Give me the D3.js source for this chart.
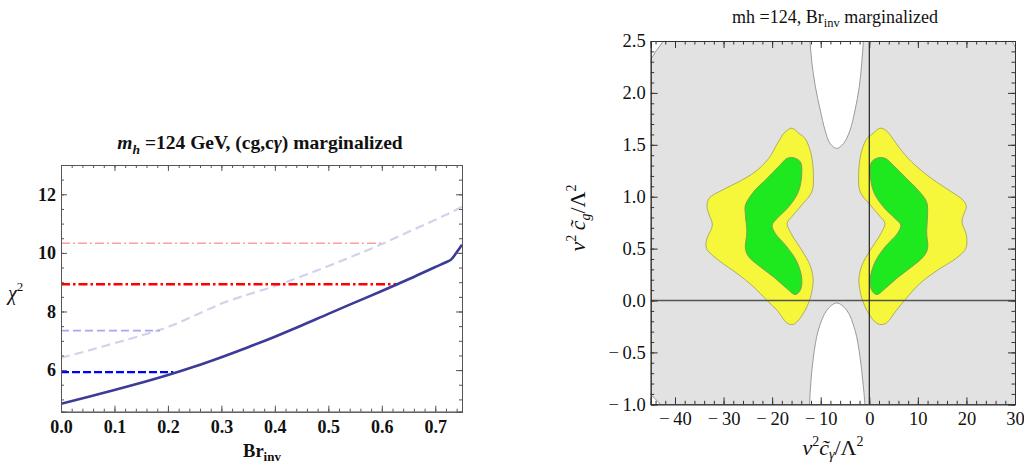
<!DOCTYPE html>
<html><head><meta charset="utf-8">
<script src="https://cdn.jsdelivr.net/npm/d3@7"></script>
<style>
html,body{margin:0;padding:0;background:#fff;}
svg{display:block;font-family:"Liberation Serif","Times New Roman",serif;}
</style></head>
<body><svg id="c" width="1024" height="465"></svg>
<script>
// ---------- LEFT PANEL DATA ----------
const brInv = [0,0.05,0.1,0.15,0.2,0.25,0.3,0.35,0.4,0.45,0.5,0.55,0.6,0.65,0.7,0.72,0.73,0.74,0.75];
const chi2Solid = [4.85,5.08,5.32,5.57,5.83,6.12,6.44,6.78,7.14,7.52,7.92,8.31,8.7,9.1,9.52,9.68,9.78,10.02,10.28];
const chi2Dashed = [6.42,6.66,6.92,7.18,7.47,7.86,8.27,8.58,8.87,9.2,9.55,9.92,10.3,10.72,11.13,11.3,11.38,11.48,11.58];
// horizontal reference lines: [level, xEnd]
const hLines = [
  {name:"pink",  y:10.33, xEnd:0.60},
  {name:"red",   y:8.93,  xEnd:0.63},
  {name:"lblue", y:7.35,  xEnd:0.185},
  {name:"blue",  y:5.93,  xEnd:0.21}
];
const leftXTicks = [0,0.1,0.2,0.3,0.4,0.5,0.6,0.7];
const leftYTicks = [6,8,10,12];

// ---------- RIGHT PANEL DATA ----------
const rightXTicks = [-40,-30,-20,-10,0,10,20,30];
const rightYTicks = [-1,-0.5,0,0.5,1,1.5,2,2.5];
const whiteTop = [[-12.6,2.7],[-12.2,2.49],[-11.8,2.285],[-11.1,2.06],[-10.1,1.835],[-9.1,1.64],[-8.07,1.513],[-6.7,1.465],[-5.3,1.513],[-3.96,1.64],[-2.93,1.835],[-2.05,2.06],[-1.56,2.285],[-1.23,2.49],[-1.1,2.7]];
const whiteBottom = [[-12.4,-1.2],[-12.3,-1.0],[-12.0,-0.77],[-11.5,-0.544],[-10.5,-0.287],[-8.74,-0.094],[-6.7,-0.024],[-4.64,-0.094],[-2.93,-0.287],[-1.9,-0.544],[-1.35,-0.77],[-0.9,-1.0],[-0.8,-1.2]];
const whiteTL = [[-46,2.22],[-45,2.32],[-43.8,2.41],[-42.4,2.5],[-42,2.6],[-46,2.6]];
const whiteBL = [[-46,-0.83],[-45,-0.907],[-44,-0.95],[-43,-1.0],[-42.8,-1.1],[-46,-1.1]];
const whiteTR = [[29.2,2.6],[29.4,2.5],[30,2.445],[31,2.38],[31,2.6]];
const yellowLeft = [[-15.9,1.66],[-14.5,1.61],[-13.2,1.56],[-12.2,1.45],[-11.8,1.37],[-11.5,1.21],[-11.8,1.05],[-13.9,0.92],[-15.9,0.81],[-16.9,0.745],[-15.9,0.63],[-13.9,0.485],[-12.2,0.34],[-11.55,0.195],[-12.0,0.05],[-12.4,-0.01],[-13.2,-0.094],[-14.9,-0.207],[-15.9,-0.232],[-16.95,-0.216],[-19.0,-0.094],[-21.05,0.0],[-23.8,0.131],[-27.2,0.26],[-30.6,0.372],[-33.0,0.468],[-33.6,0.516],[-33.4,0.6],[-32.3,0.726],[-33.0,0.83],[-33.4,0.902],[-33.0,0.983],[-30.3,1.063],[-26.9,1.143],[-23.5,1.24],[-20.7,1.369],[-18.7,1.529],[-17.3,1.625]];
const greenLeft = [[-15.6,1.375],[-14.2,1.336],[-13.9,1.224],[-14.6,1.047],[-16.6,0.902],[-19.0,0.79],[-20.0,0.726],[-19.35,0.646],[-16.95,0.516],[-14.9,0.372],[-13.9,0.212],[-14.2,0.099],[-15.25,0.057],[-16.95,0.115],[-19.7,0.227],[-22.4,0.323],[-24.8,0.42],[-25.5,0.5],[-25.2,0.661],[-25.5,0.822],[-25.5,0.919],[-23.8,1.047],[-21.05,1.176],[-18.7,1.288],[-16.95,1.369]];
const yellowRight = [[2.2,1.66],[0.8,1.61],[-0.5,1.56],[-1.5,1.45],[-1.9,1.37],[-2.2,1.21],[-1.9,1.05],[0.2,0.92],[2.2,0.81],[3.2,0.745],[2.2,0.63],[0.2,0.485],[-1.5,0.34],[-2.15,0.195],[-1.7,0.05],[-1.3,-0.01],[-0.5,-0.094],[1.2,-0.207],[2.4,-0.232],[3.6,-0.214],[5.6,-0.094],[7.6,0.02],[10.4,0.163],[14.3,0.3],[17.4,0.39],[19.4,0.47],[20.0,0.52],[20.0,0.629],[19.1,0.757],[19.6,0.85],[20.0,0.902],[19.3,0.967],[16.9,1.047],[12.8,1.176],[8.7,1.336],[6.2,1.47],[4.6,1.575],[3.4,1.64]];
const greenRight = [[1.9,1.375],[0.5,1.336],[0.2,1.224],[0.9,1.047],[2.9,0.902],[5.3,0.79],[6.5,0.726],[5.8,0.646],[3.25,0.516],[1.2,0.372],[0.2,0.212],[0.5,0.099],[1.55,0.057],[3.25,0.115],[6.0,0.227],[8.7,0.323],[11.1,0.42],[12.0,0.5],[11.8,0.661],[12.0,0.822],[11.8,0.95],[10.1,1.06],[7.35,1.19],[5.0,1.3],[3.25,1.37]];

const svg = d3.select("#c");

// ================= LEFT PANEL =================
const L = {x0:61, x1:462, y0:411.7, y1:165};
const lx = d3.scaleLinear().domain([0,0.75]).range([L.x0,L.x1]);
const ly = d3.scaleLinear().domain([4.58,13.0]).range([L.y0,L.y1]);
svg.append("clipPath").attr("id","clipL").append("rect")
  .attr("x",L.x0).attr("y",L.y1).attr("width",L.x1-L.x0).attr("height",L.y0-L.y1);
const gL = svg.append("g");
const plotL = gL.append("g").attr("clip-path","url(#clipL)");

const lineStyles = {
  pink:{stroke:"#f5a2a2", w:1.7, dash:"9,3,2,3"},
  red:{stroke:"#ff0000", w:2.6, dash:"9,3,2.5,3"},
  lblue:{stroke:"#a8a8f2", w:1.8, dash:"8,4"},
  blue:{stroke:"#0000ff", w:2.2, dash:"8,3"}
};
const lineGen = d3.line().x(d=>lx(d[0])).y(d=>ly(d[1])).curve(d3.curveMonotoneX);
plotL.append("path").datum(brInv.map((b,i)=>[b,chi2Dashed[i]]))
  .attr("d",lineGen).attr("fill","none").attr("stroke","#d2d2ea").attr("stroke-width",2.2).attr("stroke-dasharray","9,5");
hLines.forEach(h=>{
  const s = lineStyles[h.name];
  plotL.append("line").attr("x1",lx(0)).attr("x2",lx(h.xEnd)).attr("y1",ly(h.y)).attr("y2",ly(h.y))
    .attr("stroke",s.stroke).attr("stroke-width",s.w).attr("stroke-dasharray",s.dash);
});
plotL.append("path").datum(brInv.map((b,i)=>[b,chi2Solid[i]]))
  .attr("d",lineGen).attr("fill","none").attr("stroke","#3c3c98").attr("stroke-width",2.6);

// axes (ticks inward)
const frameL = "#555";
function styleAxis(g, col){ g.select(".domain").attr("stroke",col); g.selectAll(".tick line").attr("stroke",col); }
const lMinorX = d3.range(0,0.7501,0.02);
const lMinorY = d3.range(5,13.01,0.5);
gL.append("g").attr("transform",`translate(0,${L.y0})`)
  .call(d3.axisBottom(lx).tickValues(lMinorX).tickSize(-3).tickFormat("")).call(g=>styleAxis(g,frameL));
gL.append("g").attr("transform",`translate(0,${L.y1})`)
  .call(d3.axisTop(lx).tickValues(lMinorX).tickSize(-3).tickFormat("")).call(g=>styleAxis(g,frameL));
gL.append("g").attr("transform",`translate(${L.x0},0)`)
  .call(d3.axisLeft(ly).tickValues(lMinorY).tickSize(-3).tickFormat("")).call(g=>styleAxis(g,frameL));
gL.append("g").attr("transform",`translate(${L.x1},0)`)
  .call(d3.axisRight(ly).tickValues(lMinorY).tickSize(-3).tickFormat("")).call(g=>styleAxis(g,frameL));
const lbx = gL.append("g").attr("transform",`translate(0,${L.y0})`)
  .call(d3.axisBottom(lx).tickValues(leftXTicks).tickSize(-6).tickPadding(9).tickFormat(d3.format(".1f")));
styleAxis(lbx,frameL);
lbx.selectAll("text").attr("font-family","Liberation Serif").attr("font-weight","bold").attr("font-size",18).attr("fill","#111");
gL.append("g").attr("transform",`translate(0,${L.y1})`)
  .call(d3.axisTop(lx).tickValues(leftXTicks).tickSize(-6).tickFormat("")).call(g=>styleAxis(g,frameL));
const lly = gL.append("g").attr("transform",`translate(${L.x0},0)`)
  .call(d3.axisLeft(ly).tickValues(leftYTicks).tickSize(-6).tickPadding(5).tickFormat(d3.format("d")));
styleAxis(lly,frameL);
lly.selectAll("text").attr("font-family","Liberation Serif").attr("font-weight","bold").attr("font-size",18).attr("fill","#111");
gL.append("g").attr("transform",`translate(${L.x1},0)`)
  .call(d3.axisRight(ly).tickValues(leftYTicks).tickSize(-6).tickFormat("")).call(g=>styleAxis(g,frameL));

// titles & labels
const tL = svg.append("text").attr("x",260).attr("y",149).attr("text-anchor","middle")
  .attr("font-size",19.5).attr("font-weight","bold").attr("fill","#111");
tL.append("tspan").attr("font-style","italic").text("m");
tL.append("tspan").attr("font-style","italic").attr("font-size",13.5).attr("dy",5).text("h");
tL.append("tspan").attr("dy",-5).text(" =124 GeV, (cg,c");
tL.append("tspan").attr("font-style","italic").text("γ");
tL.append("tspan").text(") marginalized");
const xl = svg.append("text").attr("x",262).attr("y",457).attr("text-anchor","middle")
  .attr("font-size",18.5).attr("font-weight","bold").attr("fill","#111");
xl.append("tspan").text("Br");
xl.append("tspan").attr("font-size",13).attr("dy",4).text("inv");
const yl = svg.append("text").attr("x",8).attr("y",300).attr("font-size",20).attr("fill","#111");
yl.append("tspan").attr("font-style","italic").text("χ");
yl.append("tspan").attr("font-size",13).attr("dy",-9).text("2");

// ================= RIGHT PANEL =================
const R = {x0:650.7, x1:1015, y0:404.3, y1:41};
const rx = d3.scaleLinear().domain([-45,30]).range([R.x0,R.x1]);
const ry = d3.scaleLinear().domain([-1,2.5]).range([R.y0,R.y1]);
svg.append("clipPath").attr("id","clipR").append("rect")
  .attr("x",R.x0).attr("y",R.y1).attr("width",R.x1-R.x0).attr("height",R.y0-R.y1);
const gR = svg.append("g");
const plotR = gR.append("g").attr("clip-path","url(#clipR)");
plotR.append("rect").attr("x",rx(-45)).attr("y",ry(2.5)).attr("width",rx(30)-rx(-45)).attr("height",ry(-1)-ry(2.5)).attr("fill","#e2e2e2");

const smooth = d3.line().x(d=>rx(d[0])).y(d=>ry(d[1])).curve(d3.curveCatmullRom.alpha(0.5));
const closedSmooth = d3.line().x(d=>rx(d[0])).y(d=>ry(d[1])).curve(d3.curveCatmullRomClosed.alpha(0.5));
[whiteTop, whiteBottom].forEach(w=>{
  plotR.append("path").datum(w).attr("d",smooth).attr("fill","#fff").attr("stroke","#9a9a9a").attr("stroke-width",1);
});
[whiteTL, whiteBL, whiteTR].forEach(w=>{
  plotR.append("path").datum(w).attr("d",d3.line().x(d=>rx(d[0])).y(d=>ry(d[1]))).attr("fill","#fff").attr("stroke","#9a9a9a").attr("stroke-width",1);
});
[[yellowLeft,greenLeft],[yellowRight,greenRight]].forEach(([yb,gb])=>{
  plotR.append("path").datum(yb).attr("d",closedSmooth).attr("fill","#f6f63a").attr("stroke","#a6a660").attr("stroke-width",0.9);
  plotR.append("path").datum(gb).attr("d",closedSmooth).attr("fill","#1ee81e").attr("stroke","#7a9a5a").attr("stroke-width",0.9);
});
plotR.append("line").attr("x1",rx(-45)).attr("x2",rx(30)).attr("y1",ry(0)).attr("y2",ry(0)).attr("stroke","#555").attr("stroke-width",1.6);
plotR.append("line").attr("x1",rx(0)).attr("x2",rx(0)).attr("y1",ry(-1)).attr("y2",ry(2.5)).attr("stroke","#111").attr("stroke-width",1.1);

const frameR = "#333";
const fmtMinus = f => d => (d<0? "\u2212\u2009"+f(-d) : f(d));
const rMinorX = d3.range(-44,30.01,2);
const rMinorY = d3.range(-1,2.501,0.1);
gR.append("g").attr("transform",`translate(0,${R.y0})`)
  .call(d3.axisBottom(rx).tickValues(rMinorX).tickSize(-3.5).tickFormat("")).call(g=>styleAxis(g,frameR));
gR.append("g").attr("transform",`translate(0,${R.y1})`)
  .call(d3.axisTop(rx).tickValues(rMinorX).tickSize(-3.5).tickFormat("")).call(g=>styleAxis(g,frameR));
gR.append("g").attr("transform",`translate(${R.x0},0)`)
  .call(d3.axisLeft(ry).tickValues(rMinorY).tickSize(-3.5).tickFormat("")).call(g=>styleAxis(g,frameR));
gR.append("g").attr("transform",`translate(${R.x1},0)`)
  .call(d3.axisRight(ry).tickValues(rMinorY).tickSize(-3.5).tickFormat("")).call(g=>styleAxis(g,frameR));
const rbx = gR.append("g").attr("transform",`translate(0,${R.y0})`)
  .call(d3.axisBottom(rx).tickValues(rightXTicks).tickSize(-7).tickPadding(8).tickFormat(fmtMinus(d3.format("d"))));
styleAxis(rbx,frameR);
rbx.selectAll("text").attr("font-family","Liberation Serif").attr("font-size",18.5).attr("fill","#111");
gR.append("g").attr("transform",`translate(0,${R.y1})`)
  .call(d3.axisTop(rx).tickValues(rightXTicks).tickSize(-7).tickFormat("")).call(g=>styleAxis(g,frameR));
const rly = gR.append("g").attr("transform",`translate(${R.x0},0)`)
  .call(d3.axisLeft(ry).tickValues(rightYTicks).tickSize(-7).tickPadding(5).tickFormat(fmtMinus(d3.format(".1f"))));
styleAxis(rly,frameR);
rly.selectAll("text").attr("font-family","Liberation Serif").attr("font-size",18.5).attr("fill","#111");
gR.append("g").attr("transform",`translate(${R.x1},0)`)
  .call(d3.axisRight(ry).tickValues(rightYTicks).tickSize(-7).tickFormat("")).call(g=>styleAxis(g,frameR));

const tR = svg.append("text").attr("x",835).attr("y",23).attr("text-anchor","middle").attr("font-size",18).attr("fill","#111");
tR.append("tspan").text("mh =124, Br");
tR.append("tspan").attr("font-size",12.5).attr("dy",4).text("inv");
tR.append("tspan").attr("dy",-4).text(" marginalized");

const xr = svg.append("text").attr("x",833).attr("y",455).attr("text-anchor","middle").attr("font-size",22).attr("fill","#111");
xr.append("tspan").attr("font-style","italic").text("v");
xr.append("tspan").attr("font-size",14).attr("dy",-9).text("2");
xr.append("tspan").attr("dy",9).attr("font-style","italic").text("c\u0303");
xr.append("tspan").attr("font-style","italic").attr("font-size",14).attr("dy",4).text("γ");
xr.append("tspan").attr("dy",-4).text("/Λ");
xr.append("tspan").attr("font-size",14).attr("dy",-9).text("2");

const yr = svg.append("text").attr("transform","translate(585,218) rotate(-90)").attr("text-anchor","middle").attr("font-size",22).attr("fill","#111");
yr.append("tspan").attr("font-style","italic").text("v");
yr.append("tspan").attr("font-size",14).attr("dy",-9).text("2");
yr.append("tspan").attr("dy",9).attr("font-style","italic").text("\u2009c\u0303");
yr.append("tspan").attr("font-style","italic").attr("font-size",14).attr("dy",5).text("g");
yr.append("tspan").attr("dy",-5).text("/Λ");
yr.append("tspan").attr("font-size",14).attr("dy",-9).text("2");
</script></body></html>
